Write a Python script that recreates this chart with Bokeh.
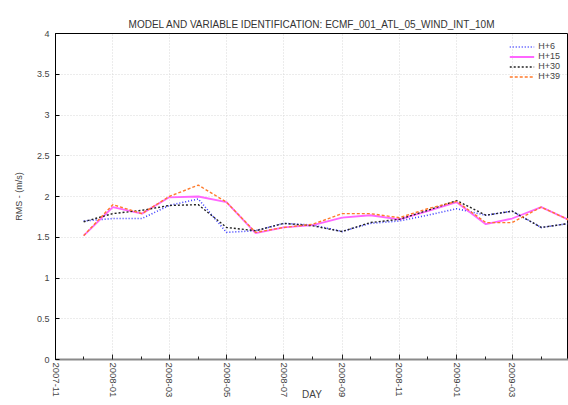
from datetime import datetime
from bokeh.plotting import figure
from bokeh.models import (Range1d, FixedTicker, DatetimeTickFormatter, DatetimeAxis,
                          Legend, LegendItem, ColumnDataSource, Grid)
from bokeh.embed import file_html
from bokeh.resources import INLINE

# ---- data -------------------------------------------------------------
months = ["2007-12", "2008-01", "2008-02", "2008-03", "2008-04", "2008-05",
          "2008-06", "2008-07", "2008-08", "2008-09", "2008-10", "2008-11",
          "2008-12", "2009-01", "2009-02", "2009-03", "2009-04", "2009-05"]
h6 = [1.70, 1.73, 1.73, 1.89, 1.97, 1.56, 1.58, 1.67, 1.65, 1.57, 1.67, 1.70,
      1.77, 1.85, 1.77, 1.82, 1.62, 1.67]
h15 = [1.52, 1.87, 1.79, 1.99, 2.00, 1.93, 1.55, 1.62, 1.65, 1.74, 1.77, 1.72,
       1.82, 1.93, 1.66, 1.73, 1.87, 1.71]
h30 = [1.69, 1.79, 1.83, 1.89, 1.90, 1.62, 1.58, 1.67, 1.64, 1.57, 1.68, 1.72,
       1.83, 1.95, 1.77, 1.82, 1.62, 1.67]
h39 = [1.52, 1.90, 1.79, 2.00, 2.14, 1.93, 1.56, 1.62, 1.66, 1.79, 1.79, 1.74,
       1.85, 1.94, 1.68, 1.68, 1.87, 1.71]
series_names = ["H+6", "H+15", "H+30", "H+39"]
major_tick_months = ["2007-11", "2008-01", "2008-03", "2008-05", "2008-07", "2008-09",
                     "2008-11", "2009-01", "2009-03", "2009-05"]
minor_tick_months = ["2007-12", "2008-02", "2008-04", "2008-06", "2008-08", "2008-10",
                     "2008-12", "2009-02", "2009-04"]
y_ticks = [0, 0.5, 1, 1.5, 2, 2.5, 3, 3.5, 4]
y_tick_labels = ["0", "0.5", "1", "1.5", "2", "2.5", "3", "3.5", "4"]
title_text = "MODEL AND VARIABLE IDENTIFICATION: ECMF_001_ATL_05_WIND_INT_10M"


def to_dt(s):
    return datetime.strptime(s, "%Y-%m")


def to_ms(s):
    return (to_dt(s) - datetime(1970, 1, 1)).total_seconds() * 1000.0


dates = [to_dt(m) for m in months]
src = ColumnDataSource(dict(x=dates, h6=h6, h15=h15, h30=h30, h39=h39))

FONT = "Liberation Sans"
TXT = "#444444"

p = figure(width=568, height=405, output_backend="svg", toolbar_location=None,
           x_axis_type=None, y_axis_type="linear",
           x_range=Range1d(datetime(2007, 11, 1), datetime(2009, 4, 30)),
           y_range=Range1d(0, 4),
           min_border_left=55, min_border_right=0, min_border_top=33,
           min_border_bottom=46, background_fill_color="white",
           border_fill_color="white", outline_line_color="black")

p.title.text = title_text
p.title.align = "center"
p.title.text_font = FONT
p.title.text_font_size = "10px"
p.title.text_font_style = "normal"
p.title.text_color = "#333333"
p.title.standoff = 8

x_ticker = FixedTicker(ticks=[to_ms(m) for m in major_tick_months],
                       minor_ticks=[to_ms(m) for m in minor_tick_months])

# bottom datetime axis
xa = DatetimeAxis(
    ticker=x_ticker,
    formatter=DatetimeTickFormatter(years="%Y-%m", months="%Y-%m", days="%Y-%m",
                                    hours="%Y-%m", minutes="%Y-%m"),
)
xa.axis_label = "DAY"
xa.axis_label_text_font = FONT
xa.axis_label_text_font_size = "10px"
xa.axis_label_text_font_style = "normal"
xa.axis_label_text_color = TXT
xa.axis_label_standoff = -11
xa.major_label_orientation = "vertical"
xa.major_label_text_font = FONT
xa.major_label_text_font_size = "9.5px"
xa.major_label_text_color = TXT
xa.major_label_standoff = 3
xa.major_tick_in = 5
xa.major_tick_out = 0
xa.minor_tick_in = 3
xa.minor_tick_out = 0
xa.axis_line_color = "#8a8a8a"
xa.axis_line_width = 2
xa.major_tick_line_color = "#222222"
xa.minor_tick_line_color = "#222222"
p.add_layout(xa, "below")

ya = p.yaxis[0]
ya.ticker = FixedTicker(ticks=y_ticks)
ya.major_label_overrides = {t: l for t, l in zip(y_ticks, y_tick_labels)}
ya.axis_label = "RMS - (m/s)"
ya.axis_label_text_font = FONT
ya.axis_label_text_font_size = "9px"
ya.axis_label_text_font_style = "normal"
ya.axis_label_text_color = TXT
ya.axis_label_standoff = 10
ya.major_label_text_font = FONT
ya.major_label_text_font_size = "9px"
ya.major_label_text_color = TXT
ya.major_label_standoff = 6
ya.major_tick_in = 4
ya.major_tick_out = 0
ya.minor_tick_in = 0
ya.minor_tick_out = 0
ya.axis_line_color = "black"

p.xgrid.visible = False
p.ygrid.grid_line_color = "#d8d8d8"
p.ygrid.grid_line_dash = "1 2"
p.ygrid.ticker = FixedTicker(ticks=y_ticks)
vg = Grid(dimension=0, ticker=x_ticker, grid_line_color="#d8d8d8", grid_line_dash="1 2")
p.add_layout(vg)

r6 = p.line("x", "h6", source=src, line_color="#3b3bff", line_width=1.6, line_dash="1 2")
r15 = p.line("x", "h15", source=src, line_color="#ff66ff", line_width=1.8)
r30 = p.line("x", "h30", source=src, line_color="#222222", line_width=1.4, line_dash="2 2")
r39 = p.line("x", "h39", source=src, line_color="#ff7a2a", line_width=1.4, line_dash="3 2")

legend = Legend(items=[LegendItem(label=n, renderers=[r]) for n, r in
                       zip(series_names, [r6, r15, r30, r39])],
                location="top_right", label_text_font=FONT, label_text_font_size="9px",
                label_text_color=TXT, label_height=9, glyph_height=9, glyph_width=25,
                spacing=0, padding=2, margin=6, background_fill_alpha=0,
                border_line_alpha=0, label_standoff=4)
p.add_layout(legend, "center")

open("out.html", "w").write(file_html(p, INLINE))
